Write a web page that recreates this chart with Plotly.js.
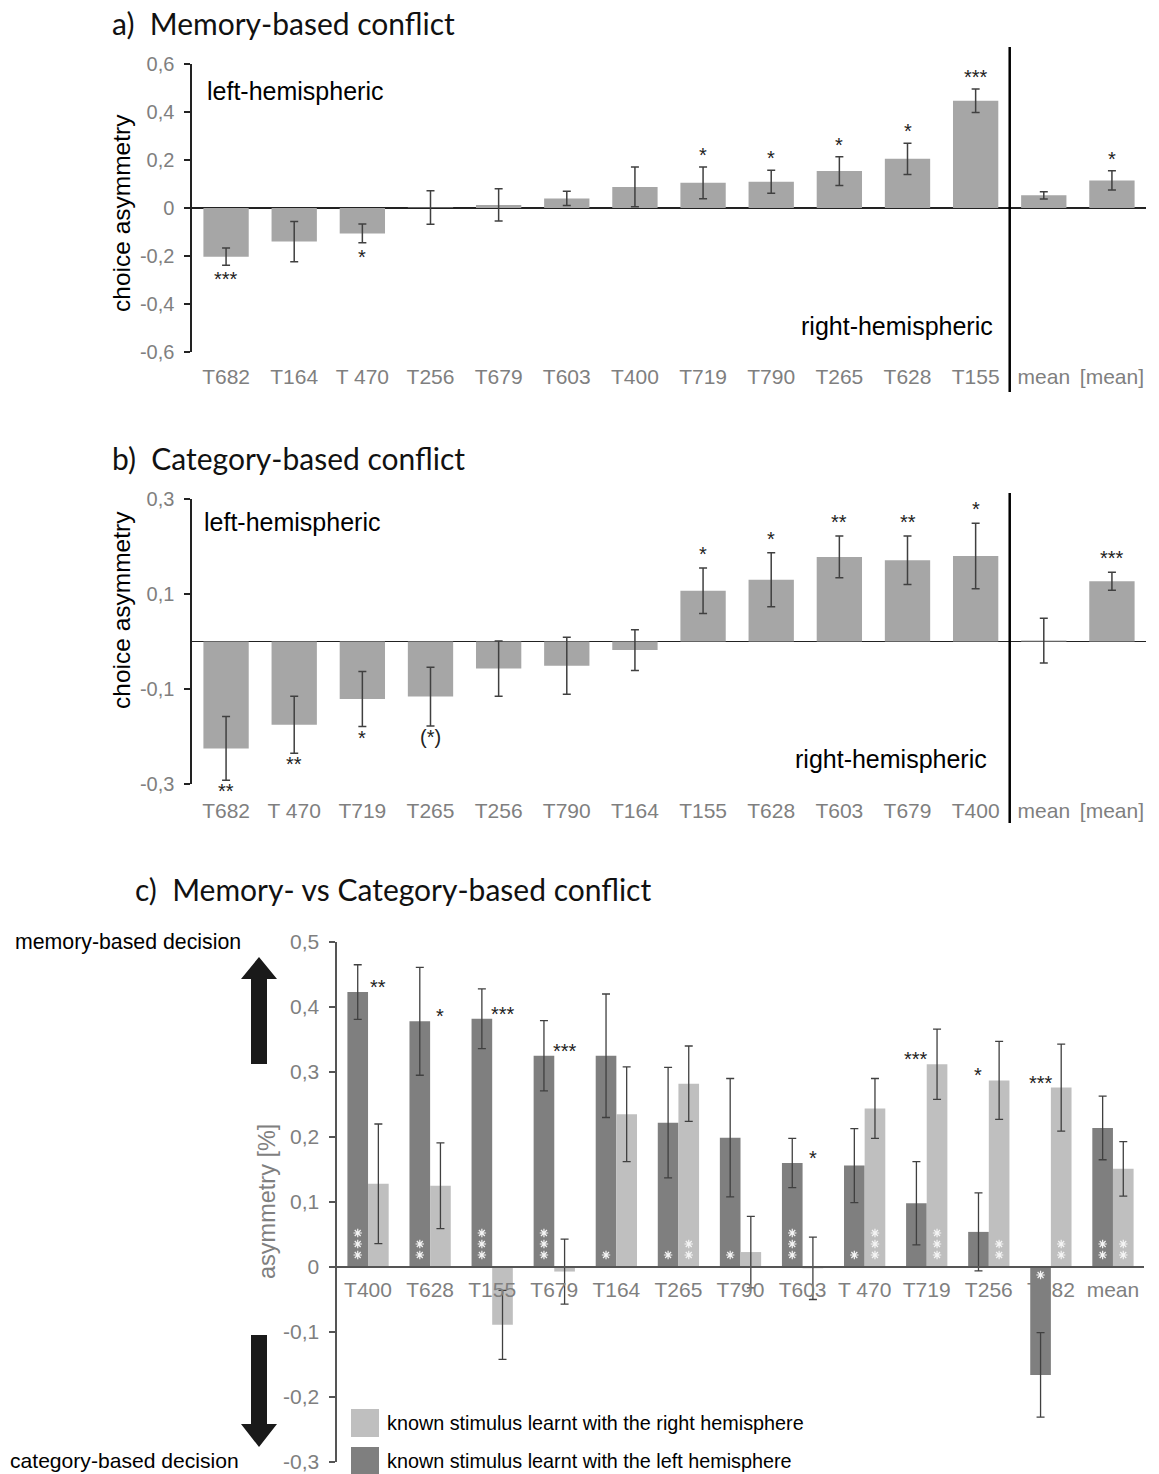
<!DOCTYPE html>
<html><head><meta charset="utf-8">
<script src="https://cdn.plot.ly/plotly-3.0.1.min.js"></script>
<style>html,body{margin:0;padding:0;background:#fff}</style>
</head><body><div id="chart" style="width:1159px;height:1474px"></div>
<script>
// ---------- Panel a: memory-based conflict ----------
const catsA = ['T682','T164','T 470','T256','T679','T603','T400','T719','T790','T265','T628','T155','mean','[mean]'];
const valsA = [-0.203,-0.140,-0.106,0.002,0.013,0.040,0.088,0.105,0.109,0.154,0.205,0.447,0.053,0.115];
const errA  = [0.036,0.084,0.039,0.070,0.067,0.030,0.083,0.066,0.048,0.060,0.065,0.049,0.015,0.040];
const sigA  = ['***','','*','','','','','*','*','*','*','***','','*'];
const ticksA = [-0.6,-0.4,-0.2,0,0.2,0.4,0.6];

// ---------- Panel b: category-based conflict ----------
const catsB = ['T682','T 470','T719','T265','T256','T790','T164','T155','T628','T603','T679','T400','mean','[mean]'];
const valsB = [-0.225,-0.175,-0.121,-0.116,-0.057,-0.051,-0.018,0.107,0.130,0.178,0.171,0.180,0.002,0.127];
const errB  = [0.067,0.060,0.058,0.062,0.058,0.060,0.043,0.048,0.057,0.044,0.051,0.069,0.047,0.019];
const sigB  = ['**','**','*','(*)','','','','*','*','**','**','*','','***'];
const ticksB = [-0.3,-0.1,0.1,0.3];

// ---------- Panel c: memory- vs category-based conflict ----------
const catsC = ['T400','T628','T155','T679','T164','T265','T790','T603','T 470','T719','T256','T682','mean'];
const leftC     = [0.423,0.378,0.382,0.325,0.325,0.222,0.199,0.160,0.156,0.098,0.054,-0.166,0.214];
const leftErrC  = [0.042,0.083,0.046,0.054,0.095,0.085,0.091,0.038,0.057,0.064,0.060,0.065,0.049];
const rightC    = [0.128,0.125,-0.089,-0.007,0.235,0.282,0.023,-0.002,0.244,0.312,0.287,0.276,0.151];
const rightErrC = [0.092,0.066,0.053,0.050,0.073,0.058,0.055,0.048,0.046,0.054,0.060,0.067,0.042];
const diffSigC  = ['**','*','***','***','','','','*','','***','*','***',''];
const whiteLeftC  = [3,2,3,3,1,1,1,3,1,0,0,1,2];
const whiteRightC = [0,0,0,0,0,2,0,0,3,3,2,2,2];
const ticksC = [-0.3,-0.2,-0.1,0,0.1,0.2,0.3,0.4,0.5];
const nameRight = 'known stimulus learnt with the right hemisphere';
const nameLeft  = 'known stimulus learnt with the left hemisphere';

// ---------- helpers ----------
const W = 1159, H = 1474;
const px = x => x / W;
const py = y => 1 - y / H;
const fmt = v => Math.abs(v) < 1e-9 ? '0' : v.toFixed(1).replace('.', ',');
const ARIAL = 'Liberation Sans, Arial, sans-serif';
const TITLEF = 'Lato, Carlito, Calibri, sans-serif';
const GRAY = '#7f7f7f';
const BARGAP = 0.335;
const errStyle = {type:'data', visible:true, color:'#404040', thickness:1.5, width:4};

const traces = [
  {type:'bar', x:catsA, y:valsA, xaxis:'x', yaxis:'y', marker:{color:'#a6a6a6'},
   error_y:Object.assign({array:errA}, errStyle), showlegend:false, hoverinfo:'x+y'},
  {type:'bar', x:catsB, y:valsB, xaxis:'x2', yaxis:'y2', marker:{color:'#a6a6a6'},
   error_y:Object.assign({array:errB}, errStyle), showlegend:false, hoverinfo:'x+y'},
  {type:'bar', name:nameLeft, x:catsC, y:leftC, xaxis:'x3', yaxis:'y3', marker:{color:'#7f7f7f'},
   error_y:Object.assign({array:leftErrC}, errStyle, {thickness:1.3}), showlegend:false},
  {type:'bar', name:nameRight, x:catsC, y:rightC, xaxis:'x3', yaxis:'y3', marker:{color:'#bfbfbf'},
   error_y:Object.assign({array:rightErrC}, errStyle, {thickness:1.3}), showlegend:false}
];

// white significance stars inside panel-c bars, as asterisk markers on an overlay index axis
const pxPerUnitC = (1462 - 942) / 0.8;
const halfBarIdx = (1 - BARGAP) / 4;
const wx = [], wy = [];
catsC.forEach((c, i) => {
  const add = (n, v, dx) => {
    for (let k = 0; k < n; k++) {
      wx.push(i + dx);
      wy.push(v < 0 ? -(8 + 11 * k) / pxPerUnitC : (12 + 11 * k) / pxPerUnitC);
    }
  };
  add(whiteLeftC[i], leftC[i], -halfBarIdx);
  add(whiteRightC[i], rightC[i], halfBarIdx);
});
traces.push({type:'scatter', mode:'markers', x:wx, y:wy, xaxis:'x4', yaxis:'y3',
  marker:{symbol:'asterisk-open', size:7, color:'#f4f4f4', line:{color:'#f4f4f4', width:1.2}},
  showlegend:false, hoverinfo:'skip'});

const ann = [];
const shapes = [];
function txt(text, x, y, opts) {
  ann.push(Object.assign({text:text, x:px(x), y:py(y), xref:'paper', yref:'paper',
    showarrow:false, xanchor:'left', yanchor:'middle',
    font:{family:ARIAL, size:25, color:'#000'}}, opts || {}));
}

// titles
txt('a)\u00a0\u00a0Memory-based conflict', 110, 23, {font:{family:TITLEF, size:30, color:'#111'}});
txt('b)\u00a0\u00a0Category-based conflict', 110, 458, {font:{family:TITLEF, size:30, color:'#111'}});
txt('c)\u00a0\u00a0Memory- vs Category-based conflict', 133, 889, {font:{family:TITLEF, size:30, color:'#111'}});

// y axis titles
txt('choice asymmetry', 121, 213, {xanchor:'center', textangle:-90, font:{family:ARIAL, size:24.5, color:'#000'}});
txt('choice asymmetry', 121, 610, {xanchor:'center', textangle:-90, font:{family:ARIAL, size:24.5, color:'#000'}});
txt('asymmetry [%]', 267, 1202, {xanchor:'center', textangle:-90, font:{family:ARIAL, size:23.5, color:GRAY}});

// hemisphere labels
txt('left-hemispheric', 205, 91);
txt('right-hemispheric', 995, 326, {xanchor:'right'});
txt('left-hemispheric', 202, 522);
txt('right-hemispheric', 989, 759, {xanchor:'right'});

// decision labels
txt('memory-based decision', 243, 942, {xanchor:'right', font:{family:ARIAL, size:21.3, color:'#000'}});
txt('category-based decision', 241, 1460, {xanchor:'right', font:{family:ARIAL, size:21.1, color:'#000'}});

// legend
shapes.push({type:'rect', xref:'paper', yref:'paper', x0:px(351), x1:px(379), y0:py(1437), y1:py(1409), fillcolor:'#bfbfbf', line:{width:0}});
shapes.push({type:'rect', xref:'paper', yref:'paper', x0:px(351), x1:px(379), y0:py(1474), y1:py(1447), fillcolor:'#7f7f7f', line:{width:0}});
txt(nameRight, 385, 1423, {font:{family:ARIAL, size:19.8, color:'#000'}});
txt(nameLeft, 385, 1461, {font:{family:ARIAL, size:19.8, color:'#000'}});

// arrows
function path(pts) {
  return 'M' + pts.map(p => px(p[0]).toFixed(5) + ',' + py(p[1]).toFixed(5)).join(' L') + ' Z';
}
shapes.push({type:'path', xref:'paper', yref:'paper', fillcolor:'#1a1a1a', line:{width:0},
  path: path([[259,957],[277,979],[267,979],[267,1064],[251,1064],[251,979],[241,979]])});
shapes.push({type:'path', xref:'paper', yref:'paper', fillcolor:'#1a1a1a', line:{width:0},
  path: path([[259,1447],[277,1424],[267,1424],[267,1335],[251,1335],[251,1424],[241,1424]])});

// dividers
shapes.push({type:'line', xref:'x', yref:'paper', x0:11.5, x1:11.5, y0:py(392), y1:py(47), line:{color:'#000', width:2.5}});
shapes.push({type:'line', xref:'x2', yref:'paper', x0:11.5, x1:11.5, y0:py(823), y1:py(493), line:{color:'#000', width:2.5}});

// significance stars a, b
function stars(cats, vals, errs, sig, xr, yr, posShift, negShift) {
  cats.forEach((c, i) => {
    if (!sig[i]) return;
    const v = vals[i], e = errs[i];
    const pos = v >= 0;
    ann.push({text:sig[i], x:c, y: pos ? v + e : v - e, xref:xr, yref:yr, showarrow:false,
      yanchor: pos ? 'bottom' : 'top', yshift: pos ? posShift : negShift, borderpad:0,
      font:{family:ARIAL, size:20, color:'#222'}});
  });
}
stars(catsA, valsA, errA, sigA, 'x', 'y', 0, -2);
stars(catsB, valsB, errB, sigB, 'x2', 'y2', 2, 1);

// panel c black stars (difference between hemispheres), over the shorter bar
const catWC = (1144 - 337) / catsC.length;
const halfBarPx = catWC * halfBarIdx;
catsC.forEach((c, i) => {
  if (!diffSigC[i]) return;
  const overRight = leftC[i] > rightC[i];
  ann.push({text:diffSigC[i], x:c, y:Math.max(leftC[i], rightC[i]), xref:'x3', yref:'y3',
    xshift: overRight ? halfBarPx : -halfBarPx, yanchor:'bottom', yshift:-8, showarrow:false,
    font:{family:ARIAL, size:20, color:'#222'}});
});

const yBase = {showgrid:false, showline:true, linecolor:'#222', linewidth:1.6,
  ticks:'outside', ticklen:6, tickcolor:'#222', tickwidth:1.3, ticklabelstandoff:6,
  tickfont:{family:ARIAL, size:20, color:GRAY}, zeroline:true, zerolinecolor:'#222', zerolinewidth:1.6,
  fixedrange:true};
const xBase = {showgrid:false, showline:false, zeroline:false, ticks:'outside', ticklen:6,
  tickcolor:'rgba(0,0,0,0)', tickfont:{family:ARIAL, size:21, color:GRAY}, fixedrange:true, type:'category'};

const layout = {
  width:W, height:H, margin:{l:0, r:0, t:0, b:0}, paper_bgcolor:'#fff', plot_bgcolor:'rgba(0,0,0,0)',
  bargap:BARGAP, bargroupgap:0, barmode:'group', showlegend:false,
  xaxis: Object.assign({}, xBase, {domain:[px(192), px(1146)], anchor:'y'}),
  yaxis: Object.assign({}, yBase, {domain:[py(352), py(64)], anchor:'x', range:[-0.6, 0.6],
    tickvals:ticksA, ticktext:ticksA.map(fmt)}),
  xaxis2: Object.assign({}, xBase, {domain:[px(192), px(1146)], anchor:'y2', ticklen:8}),
  yaxis2: Object.assign({}, yBase, {domain:[py(784), py(499)], anchor:'x2', range:[-0.3, 0.3],
    tickvals:ticksB, ticktext:ticksB.map(fmt)}),
  xaxis3: Object.assign({}, xBase, {domain:[px(337), px(1144)], anchor:'free', position:py(1266),
    showline:true, linecolor:'#555', linewidth:1.6, ticklen:4}),
  xaxis4: {domain:[px(337), px(1144)], overlaying:'x3', anchor:'y3', range:[-0.5, catsC.length - 0.5],
    visible:false, fixedrange:true},
  yaxis3: Object.assign({}, yBase, {domain:[py(1462), py(942)], anchor:'x3', range:[-0.3, 0.5],
    tickvals:ticksC, ticktext:ticksC.map(fmt), zeroline:false, linecolor:'#555', tickcolor:'#555',
    tickfont:{family:ARIAL, size:21, color:GRAY}}),
  annotations: ann,
  shapes: shapes
};

Plotly.newPlot('chart', traces, layout, {displayModeBar:false, staticPlot:true});
</script>
</body></html>
